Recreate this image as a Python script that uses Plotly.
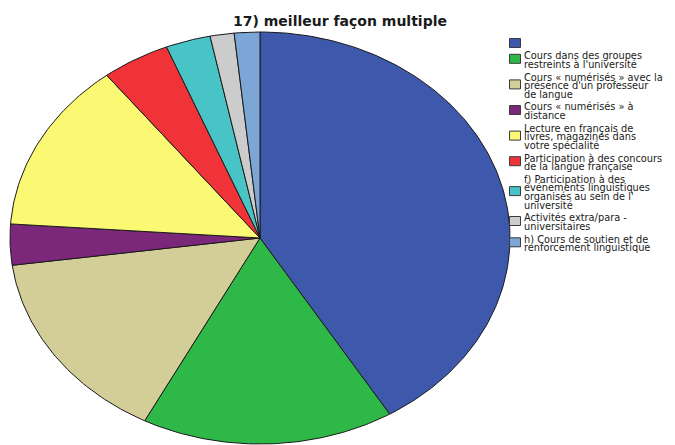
import numpy as np
import plotly.graph_objects as go

title = "17) meilleur façon multiple"
labels = [
    "",
    "Cours dans des groupes\nrestreints à l'université",
    "Cours « numérisés » avec la\nprésence d'un professeur\nde langue",
    "Cours « numérisés » à\ndistance",
    "Lecture en français de\nlivres, magazines dans\nvotre spécialité",
    "Participation à des concours\nde la langue française",
    "f) Participation à des\névénements linguistiques\norganisés au sein de l'\nuniversité",
    "Activités extra/para -\nuniversitaires",
    "h) Cours de soutien et de\nrenforcement linguistique",
]
values = [41.3, 16.3, 15.25, 3.2, 13.4, 4.4, 2.9, 1.55, 1.65]
colors = ["#3e58ac", "#2eb848", "#d3ce97", "#7b287b", "#fbf873",
          "#ef3338", "#48c4c6", "#cccccc", "#7ba6d5"]

W, H = 675, 445
OFF = 8  # page body margin offset in the screenshot
cx, cy, a, b = 260 - OFF, 238 - OFF, 250, 206  # ellipse geometry in figure pixels

fig = go.Figure()
total = sum(values)
cum = 0.0
for v, c, lab in zip(values, colors, labels):
    t0 = cum / total * 2 * np.pi
    cum += v
    t1 = cum / total * 2 * np.pi
    n = max(4, int((t1 - t0) / (2 * np.pi) * 400))
    t = np.linspace(t0, t1, n)
    xs = np.concatenate([[0], np.sin(t), [0]])
    ys = np.concatenate([[0], np.cos(t), [0]])
    fig.add_trace(go.Scatter(x=xs, y=ys, mode="lines", fill="toself",
                             fillcolor=c, line=dict(color="#1a1a1a", width=1),
                             name=lab.replace("\n", " "), hoverinfo="name",
                             showlegend=False))

# legend drawn as shapes + annotations (pixel layout)
font = dict(family="DejaVu Sans", size=9.8, color="#1a1a1a")
L, G = 8.6, 4.1
y = 43.0 - OFF
for lab, c in zip(labels, colors):
    lines = lab.split("\n")
    ys_ = [y + i * L for i in range(len(lines))]
    yc = sum(ys_) / len(ys_) - (1.2 if len(lines) > 1 else 0)
    fig.add_shape(type="rect", xref="paper", yref="paper",
                  x0=(509.5 - OFF) / W, x1=(520.5 - OFF) / W,
                  y0=1 - (yc - 4.5) / H, y1=1 - (yc + 4.5) / H,
                  fillcolor=c, line=dict(color="#3a3a3a", width=1))
    for ln, yy in zip(lines, ys_):
        if ln:
            fig.add_annotation(text=ln, xref="paper", yref="paper",
                               x=(522 - OFF) / W, y=1 - yy / H, xanchor="left",
                               yanchor="middle", showarrow=False, font=font)
    y = ys_[-1] + L + G

xr = [-cx / a, (W - cx) / a]
yr = [-(H - cy) / b, cy / b]

fig.update_layout(
    width=W, height=H,
    margin=dict(l=0, r=0, t=0, b=0),
    paper_bgcolor="white", plot_bgcolor="white",
    xaxis=dict(range=xr, visible=False, fixedrange=True),
    yaxis=dict(range=yr, visible=False, fixedrange=True),
    title=dict(text="<b>" + title + "</b>", x=(340 - OFF) / W, xanchor="center",
               y=1 - (21 - OFF) / H, yanchor="middle",
               font=dict(family="DejaVu Sans", size=14, color="#1a1a1a")),
    showlegend=False,
)

fig.write_html("out.html")
